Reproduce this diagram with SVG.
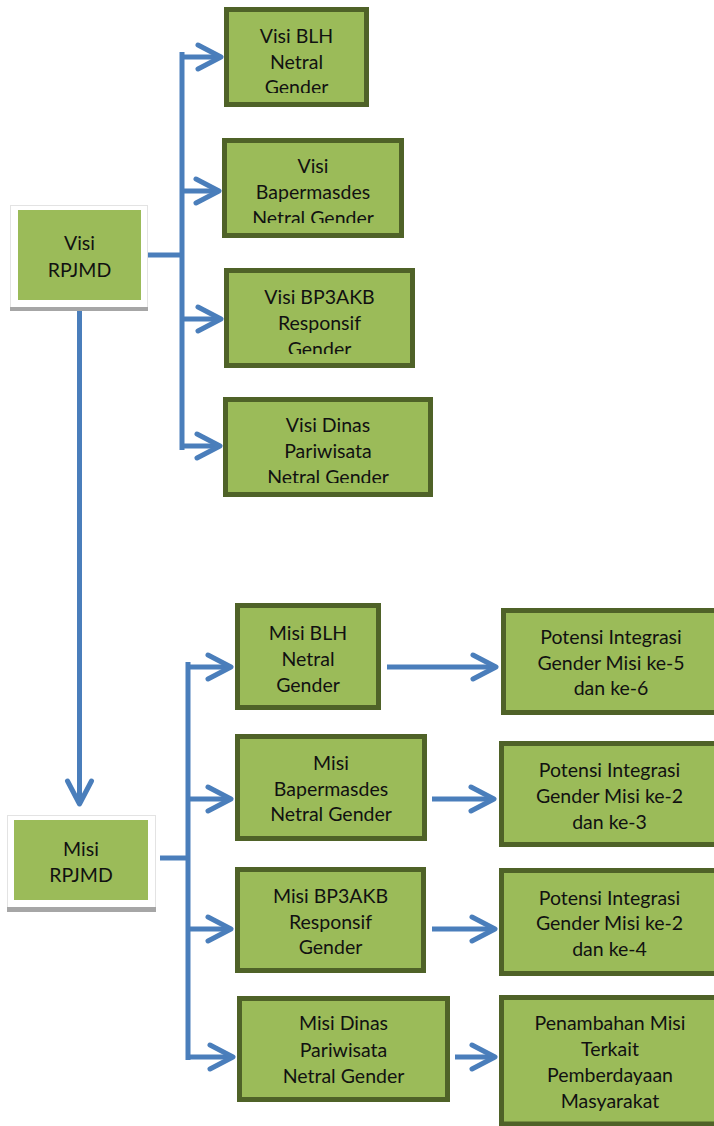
<svg xmlns="http://www.w3.org/2000/svg" width="714" height="1126" viewBox="0 0 714 1126">
<style>
.box{fill:#9BBB59;stroke:#4F6228;stroke-width:5}
.plain{fill:#9BBB59}
.card{fill:#FFFFFF;stroke:#E3E3E3;stroke-width:1}
.shadow{fill:#A6A6A6}
.t{font-family:Lato,"Liberation Sans",sans-serif;font-size:19.5px;fill:#111;text-anchor:middle}
.c{fill:none;stroke:#4A7EBB;stroke-width:5}
</style>
<defs>
<marker id="ah" markerUnits="userSpaceOnUse" viewBox="-30 -16 34 32" refX="0" refY="0" markerWidth="34" markerHeight="32" orient="auto" overflow="visible">
<path d="M-23,-12 L0,0 L-23,12" fill="none" stroke="#4A7EBB" stroke-width="5" stroke-linecap="round" stroke-linejoin="round"/>
</marker>
<clipPath id="cv1"><rect x="224" y="7" width="146" height="86"/></clipPath>
<clipPath id="cv2"><rect x="222" y="138" width="183" height="85"/></clipPath>
<clipPath id="cv3"><rect x="224" y="268" width="192" height="86"/></clipPath>
<clipPath id="cv4"><rect x="223" y="397" width="211" height="86"/></clipPath>
</defs>

<g id="connectors">
<path class="c" d="M148,255 H182"/>
<path class="c" d="M182,52 V450"/>
<path class="c" d="M182,57 H221" marker-end="url(#ah)"/>
<path class="c" d="M182,191 H219" marker-end="url(#ah)"/>
<path class="c" d="M182,319 H221" marker-end="url(#ah)"/>
<path class="c" d="M182,446 H220" marker-end="url(#ah)"/>
<path class="c" d="M79.5,311 V804" marker-end="url(#ah)"/>
<path class="c" d="M160,858 H188"/>
<path class="c" d="M188,662 V1060"/>
<path class="c" d="M188,667 H231" marker-end="url(#ah)"/>
<path class="c" d="M188,799 H231" marker-end="url(#ah)"/>
<path class="c" d="M188,929 H231" marker-end="url(#ah)"/>
<path class="c" d="M188,1057 H233" marker-end="url(#ah)"/>
<path class="c" d="M387,667 H496" marker-end="url(#ah)"/>
<path class="c" d="M432,799 H494" marker-end="url(#ah)"/>
<path class="c" d="M432,929 H495" marker-end="url(#ah)"/>
<path class="c" d="M455,1057 H495" marker-end="url(#ah)"/>
</g>

<g id="visi-rpjmd">
<rect class="card" x="10.5" y="205.5" width="137" height="103"/>
<rect class="shadow" x="10" y="307" width="138" height="4"/>
<rect class="plain" x="18" y="210" width="123" height="90"/>
<text class="t"><tspan x="79.5" y="250">Visi</tspan><tspan x="79.5" y="277">RPJMD</tspan></text>
</g>

<g id="visi-blh">
<rect class="box" x="226.5" y="9.5" width="140" height="95"/>
<text class="t" clip-path="url(#cv1)"><tspan x="296.5" y="43">Visi BLH</tspan><tspan x="296.5" y="68.5">Netral</tspan><tspan x="296.5" y="94">Gender</tspan></text>
</g>

<g id="visi-bapermasdes">
<rect class="box" x="224.5" y="140.5" width="177" height="95"/>
<text class="t" clip-path="url(#cv2)"><tspan x="313" y="173">Visi</tspan><tspan x="313" y="199">Bapermasdes</tspan><tspan x="313" y="225">Netral Gender</tspan></text>
</g>

<g id="visi-bp3akb">
<rect class="box" x="226.5" y="270.5" width="186" height="95"/>
<text class="t" clip-path="url(#cv3)"><tspan x="319.5" y="304">Visi BP3AKB</tspan><tspan x="319.5" y="330">Responsif</tspan><tspan x="319.5" y="356">Gender</tspan></text>
</g>

<g id="visi-dinas">
<rect class="box" x="225.5" y="399.5" width="205" height="95"/>
<text class="t" clip-path="url(#cv4)"><tspan x="328" y="432">Visi Dinas</tspan><tspan x="328" y="458">Pariwisata</tspan><tspan x="328" y="484">Netral Gender</tspan></text>
</g>

<g id="misi-rpjmd">
<rect class="card" x="7.5" y="815.5" width="148" height="93"/>
<rect class="shadow" x="7" y="907" width="149" height="5"/>
<rect class="plain" x="14" y="820" width="134" height="80"/>
<text class="t"><tspan x="81" y="856">Misi</tspan><tspan x="81" y="882">RPJMD</tspan></text>
</g>

<g id="misi-blh">
<rect class="box" x="237.5" y="605.5" width="141" height="102"/>
<text class="t"><tspan x="308" y="640">Misi BLH</tspan><tspan x="308" y="666">Netral</tspan><tspan x="308" y="692">Gender</tspan></text>
</g>

<g id="misi-bapermasdes">
<rect class="box" x="237.5" y="736.5" width="187" height="102"/>
<text class="t"><tspan x="331" y="770">Misi</tspan><tspan x="331" y="796">Bapermasdes</tspan><tspan x="331" y="821">Netral Gender</tspan></text>
</g>

<g id="misi-bp3akb">
<rect class="box" x="237.5" y="869.5" width="186" height="101"/>
<text class="t"><tspan x="330.5" y="903">Misi BP3AKB</tspan><tspan x="330.5" y="929">Responsif</tspan><tspan x="330.5" y="954">Gender</tspan></text>
</g>

<g id="misi-dinas">
<rect class="box" x="239.5" y="998.5" width="208" height="101"/>
<text class="t"><tspan x="343.5" y="1030">Misi Dinas</tspan><tspan x="343.5" y="1057">Pariwisata</tspan><tspan x="343.5" y="1083">Netral Gender</tspan></text>
</g>

<g id="potensi-5-6">
<rect class="box" x="503.5" y="610.5" width="220" height="102"/>
<text class="t"><tspan x="611" y="644">Potensi Integrasi</tspan><tspan x="611" y="670">Gender Misi ke-5</tspan><tspan x="611" y="695">dan ke-6</tspan></text>
</g>

<g id="potensi-2-3">
<rect class="box" x="501.5" y="743.5" width="220" height="101"/>
<text class="t"><tspan x="609.5" y="777">Potensi Integrasi</tspan><tspan x="609.5" y="803">Gender Misi ke-2</tspan><tspan x="609.5" y="829">dan ke-3</tspan></text>
</g>

<g id="potensi-2-4">
<rect class="box" x="501.5" y="870.5" width="220" height="103"/>
<text class="t"><tspan x="609.5" y="905">Potensi Integrasi</tspan><tspan x="609.5" y="930">Gender Misi ke-2</tspan><tspan x="609.5" y="956">dan ke-4</tspan></text>
</g>

<g id="penambahan-misi">
<rect class="box" x="501.5" y="997.5" width="220" height="126.5"/>
<text class="t"><tspan x="610" y="1030">Penambahan Misi</tspan><tspan x="610" y="1056">Terkait</tspan><tspan x="610" y="1082">Pemberdayaan</tspan><tspan x="610" y="1108">Masyarakat</tspan></text>
</g>
</svg>
